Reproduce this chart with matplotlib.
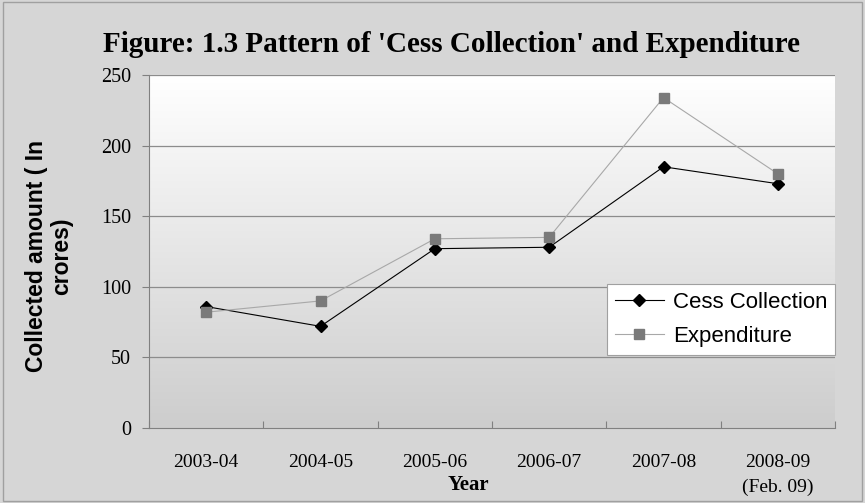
import matplotlib
matplotlib.use("Agg")
import matplotlib.pyplot as plt
import numpy as np
from matplotlib.colors import LinearSegmentedColormap

years = ["2003-04", "2004-05", "2005-06", "2006-07", "2007-08", "2008-09\n(Feb. 09)"]
cess = [86, 72, 127, 128, 185, 173]
expenditure = [82, 90, 134, 135, 234, 180]
yticks = [0, 50, 100, 150, 200, 250]

W, H = 865, 503
fig = plt.figure(figsize=(W / 100, H / 100), dpi=100, facecolor="#d6d6d6")
ax = fig.add_axes([149 / W, 1 - 428 / H, (835 - 149) / W, (428 - 75) / H])

# gradient background
cmap = LinearSegmentedColormap.from_list("g", ["#cdcdcd", "#e6e6e6", "#ffffff"])
grad = np.linspace(0, 1, 256).reshape(-1, 1)
ax.imshow(grad, aspect="auto", cmap=cmap, origin="lower", extent=[0, 1, 0, 1],
          transform=ax.transAxes, zorder=0)

x = np.arange(len(years))
ax.plot(x, cess, color="black", lw=0.8, marker="D", ms=6.5, mfc="black", mec="black",
        label="Cess Collection", zorder=3)
ax.plot(x, expenditure, color="#a8a8a8", lw=0.8, marker="s", ms=7.5, mfc="#7a7a7a",
        mec="#7a7a7a", label="Expenditure", zorder=3)

ax.set_xlim(-0.5, len(years) - 0.5)
ax.set_ylim(0, 250)
ax.set_yticks(yticks)
ax.set_yticklabels([str(v) for v in yticks], fontfamily="Liberation Serif", fontsize=14.5)
ax.set_xticks(np.arange(len(years) + 1) - 0.5, minor=False)
ax.set_xticklabels([])
ax.set_xticks(x, minor=True)
ax.set_xticklabels(years, minor=True, fontfamily="Liberation Serif", fontsize=14,
                   va="top", linespacing=1.55)
ax.tick_params(axis="x", which="minor", length=0, pad=19)
ax.tick_params(axis="x", which="major", length=5, direction="in", color="#808080")
ax.tick_params(axis="y", length=5, direction="out", color="#808080", pad=8)

for v in yticks[1:]:
    ax.axhline(v, color="#8c8c8c", lw=0.9, zorder=1)

for s in ["top", "right"]:
    ax.spines[s].set_visible(False)
for s in ["left", "bottom"]:
    ax.spines[s].set_color("#808080")

fig.text(468 / W, 1 - 485 / H, "Year", fontfamily="Liberation Serif", fontweight="bold",
         fontsize=15, ha="center", va="center")
fig.text(49 / W, 1 - 256 / H, "Collected amount ( In\ncrores)", fontfamily="Liberation Sans",
         fontweight="bold", fontsize=16.5, rotation=90, ha="center", va="center",
         multialignment="center", linespacing=1.15)

fig.text(452 / W, 1 - 45 / H, "Figure: 1.3 Pattern of 'Cess Collection' and Expenditure",
         fontfamily="Liberation Serif", fontweight="bold", fontsize=21, ha="center", va="center")

leg = ax.legend(loc="lower right", bbox_to_anchor=(1.0, (428 - 355) / 353), frameon=True,
                fancybox=False, edgecolor="#a0a0a0", facecolor="white", framealpha=1,
                prop={"family": "Liberation Sans", "size": 16}, handlelength=2.2,
                handletextpad=0.4, borderpad=0.35, labelspacing=0.6, borderaxespad=0)
leg.get_frame().set_linewidth(0.8)

border = plt.Rectangle((0.004, 0.004), 0.992, 0.992, transform=fig.transFigure,
                       fill=False, edgecolor="#a0a0a0", lw=1)
fig.add_artist(border)

fig.savefig("out.png", dpi=100, facecolor=fig.get_facecolor())
